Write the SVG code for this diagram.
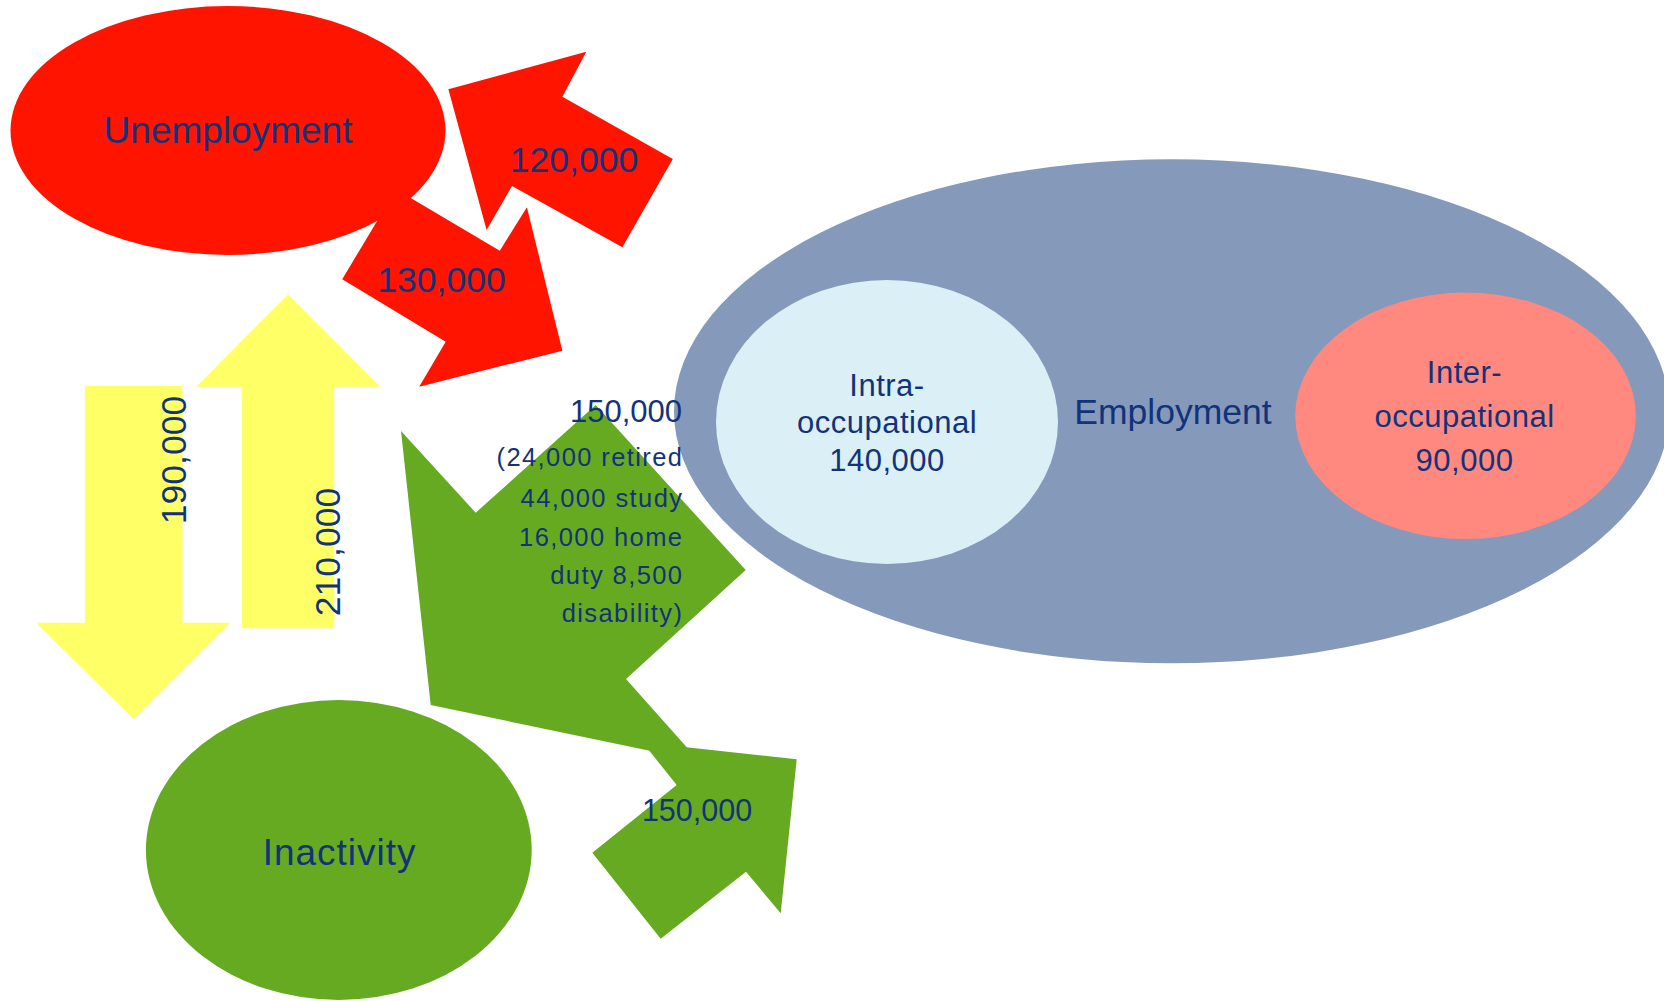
<svg xmlns="http://www.w3.org/2000/svg" width="1664" height="1001" viewBox="0 0 1664 1001">
<style>
  text { font-family: "Liberation Sans", Arial, sans-serif; fill: #12337A; }
  .red { fill: #FF1400; }
  .yel { fill: #FFFF66; }
  .grn { fill: #66AA21; }
  .big { font-size: 37px; text-anchor: middle; }
  .lab { font-size: 35.5px; text-anchor: middle; }
  .sub { font-size: 31px; text-anchor: middle; letter-spacing: 0.5px; }
  .note { font-size: 25.5px; text-anchor: end; letter-spacing: 1.4px; }
</style>
<rect width="1664" height="1001" fill="#FFFFFF"/>
<g id="connectors">
  <polygon id="arrow-emp-unemp" class="red" points="448.4,89.3 586.3,51.7 562.4,96.7 672.8,159 622.4,247.3 512,186 486.6,230"/>
  <polygon id="arrow-unemp-emp" class="red" points="396,189.4 412.8,199.3 499.8,250.7 526.9,207.3 562.4,350.7 419.2,386.7 445.7,341.7 342.2,279.3"/>
  <polygon id="arrow-inact-unemp" class="yel" points="288.1,294.3 380.4,386.7 334.3,386.7 334.3,628.3 242,628.3 242,386.7 196.3,386.7"/>
  <polygon id="arrow-unemp-inact" class="yel" points="84.9,386 182.5,386 182.5,622.7 230.3,622.7 133.7,719.3 36.1,622.7 84.9,622.7"/>
  <polygon id="arrow-emp-inact" class="grn" points="595.7,405 745.7,570 626,679 699,761 430.7,705 401,431 475.7,512.7"/>
  <polygon id="arrow-inact-emp" class="grn" points="592.3,852.7 676.7,785 642.7,742.5 796.7,759.3 780.7,913.3 746,871.7 660.7,938.7"/>
</g>
<g id="node-unemployment">
  <ellipse cx="228" cy="130.5" rx="217.5" ry="124.5" class="red"/>
  <text class="big" x="228" y="143">Unemployment</text>
</g>
<g id="node-employment">
  <ellipse cx="1171.6" cy="411.3" rx="497.6" ry="252" fill="#8599BB"/>
  <text class="lab" x="1173" y="424">Employment</text>
</g>
<g id="node-intra">
  <ellipse cx="887" cy="422" rx="171" ry="142" fill="#DAF0F6"/>
  <text class="sub" x="887" y="396">Intra-</text>
  <text class="sub" x="887" y="433.3">occupational</text>
  <text class="sub" x="887" y="470.7">140,000</text>
</g>
<g id="node-inter">
  <ellipse cx="1465.5" cy="415.8" rx="170.3" ry="123.2" fill="#FF887F"/>
  <text class="sub" x="1464.5" y="382.7">Inter-</text>
  <text class="sub" x="1464.5" y="426.7">occupational</text>
  <text class="sub" x="1464.5" y="470.7">90,000</text>
</g>
<g id="node-inactivity">
  <ellipse cx="338.8" cy="850" rx="192.9" ry="150" class="grn"/>
  <text class="big" x="339.6" y="865" style="letter-spacing:1px">Inactivity</text>
</g>
<g id="connector-labels">
  <text class="lab" x="574" y="171.7">120,000</text>
  <text class="lab" x="441.5" y="291.7">130,000</text>
  <text class="lab" transform="translate(185.7,460) rotate(-90)">190,000</text>
  <text class="lab" transform="translate(339.6,552) rotate(-90)">210,000</text>
  <text x="682" y="422.3" style="font-size:31px;text-anchor:end">150,000</text>
  <text class="note" x="683.4" y="466">(24,000 retired</text>
  <text class="note" x="683.4" y="506.7">44,000 study</text>
  <text class="note" x="683.4" y="545.7">16,000 home</text>
  <text class="note" x="683.4" y="584.3">duty 8,500</text>
  <text class="note" x="683.4" y="622.3">disability)</text>
  <text x="697" y="821" style="font-size:30.5px;text-anchor:middle">150,000</text>
</g>
</svg>
